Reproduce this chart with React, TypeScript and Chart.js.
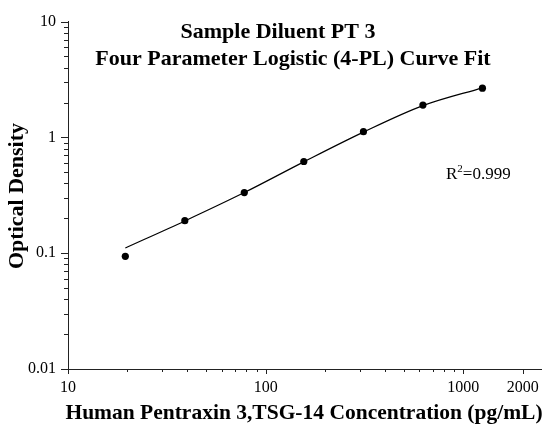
import React, { useEffect, useRef } from "react";
import { Chart, registerables } from "chart.js";

Chart.register(...registerables);

// Standard concentrations (pg/mL) and measured optical density
const concentrations = [19.5, 39, 78, 156, 312.5, 625, 1250];
const opticalDensity = [0.094, 0.191, 0.334, 0.619, 1.12, 1.9, 2.66];

// 4-PL fitted curve
const fitConcentrations = [19.5, 39, 78, 156, 312.5, 625, 1250];
const fitDensity = [0.111, 0.19, 0.334, 0.615, 1.11, 1.88, 2.68];

// Axis ticks
const xTickValues = [10, 20, 30, 40, 50, 60, 70, 80, 90, 100, 200, 300, 400, 500, 600, 700, 800, 900, 1000, 2000];
const xTickLabels = [10, 100, 1000, 2000];
const yTickValues = [
  0.01, 0.02, 0.03, 0.04, 0.05, 0.06, 0.07, 0.08, 0.09,
  0.1, 0.2, 0.3, 0.4, 0.5, 0.6, 0.7, 0.8, 0.9,
  1, 2, 3, 4, 5, 6, 7, 8, 9, 10,
];
const yTickLabels = [0.01, 0.1, 1, 10];

const titleLines = ["Sample Diluent PT 3", "Four Parameter Logistic (4-PL) Curve Fit"];
const xAxisTitle = "Human Pentraxin 3,TSG-14 Concentration (pg/mL)";
const yAxisTitle = "Optical Density";
const rSquaredText = "0.999";

const SERIF = '"Liberation Serif", "Times New Roman", serif';

const decorPlugin = {
  id: "decor",
  afterDraw(chart: any) {
    const ctx = chart.ctx as CanvasRenderingContext2D;
    const xs = chart.scales.x;
    const ys = chart.scales.y;
    const area = chart.chartArea;
    ctx.save();
    ctx.strokeStyle = "#222";
    ctx.lineWidth = 1;
    // x tick marks (outside, downward)
    ctx.beginPath();
    xs.ticks.forEach((t: any) => {
      const px = Math.round(xs.getPixelForValue(t.value)) + 0.5;
      const len = xTickLabels.includes(t.value) ? 5 : 3;
      ctx.moveTo(px, area.bottom);
      ctx.lineTo(px, area.bottom + len);
    });
    // y tick marks (outside, leftward)
    ys.ticks.forEach((t: any) => {
      const py = Math.round(ys.getPixelForValue(t.value)) + 0.5;
      const len = yTickLabels.includes(t.value) ? 7 : 4;
      ctx.moveTo(area.left, py);
      ctx.lineTo(area.left - len, py);
    });
    ctx.stroke();

    ctx.fillStyle = "#000";
    // Title
    ctx.font = `bold 22px ${SERIF}`;
    ctx.textAlign = "center";
    ctx.textBaseline = "alphabetic";
    ctx.fillText(titleLines[0], 278, 38);
    ctx.fillText(titleLines[1], 293, 65);

    // X axis title
    ctx.font = `bold 21.5px ${SERIF}`;
    ctx.fillText(xAxisTitle, 304, 419);

    // Y axis title
    ctx.save();
    ctx.translate(23, 196);
    ctx.rotate(-Math.PI / 2);
    ctx.font = `bold 22px ${SERIF}`;
    ctx.fillText(yAxisTitle, 0, 0);
    ctx.restore();

    // R^2 annotation
    ctx.textAlign = "left";
    let x = 446;
    ctx.font = `17px ${SERIF}`;
    ctx.fillText("R", x, 179);
    x += ctx.measureText("R").width;
    ctx.font = `11px ${SERIF}`;
    ctx.fillText("2", x, 172);
    x += ctx.measureText("2").width;
    ctx.font = `17px ${SERIF}`;
    ctx.fillText("=" + rSquaredText, x, 179);
    ctx.restore();
  },
};

export default function App() {
  const ref = useRef<HTMLCanvasElement | null>(null);

  useEffect(() => {
    if (!ref.current) return;
    const chart = new Chart(ref.current, {
      type: "line",
      data: {
        datasets: [
          {
            label: "4-PL fit",
            data: fitConcentrations.map((c, i) => ({ x: c, y: fitDensity[i] })),
            borderColor: "#000",
            borderWidth: 1.2,
            pointRadius: 0,
            tension: 0.4,
            cubicInterpolationMode: "monotone",
            fill: false,
          },
          {
            label: "Standards",
            data: concentrations.map((c, i) => ({ x: c, y: opticalDensity[i] })),
            showLine: false,
            pointRadius: 3.6,
            pointBackgroundColor: "#000",
            pointBorderColor: "#000",
            pointBorderWidth: 0,
          },
        ],
      },
      options: {
        responsive: false,
        animation: false,
        layout: { padding: { top: 18, right: 6, left: 0, bottom: 0 } },
        plugins: {
          legend: { display: false },
          title: { display: false },
          tooltip: { enabled: false },
        },
        scales: {
          x: {
            type: "logarithmic",
            min: 10,
            max: 2500,
            grid: { display: false, drawTicks: false },
            border: { display: true, color: "#222", width: 1 },
            afterBuildTicks: (scale: any) => {
              scale.ticks = xTickValues.map((v) => ({ value: v, major: false }));
            },
            afterFit: (scale: any) => {
              scale.height = 59;
            },
            ticks: {
              autoSkip: false,
              maxRotation: 0,
              padding: 9,
              color: "#000",
              font: { family: SERIF, size: 16 },
              callback: (v: any) => (xTickLabels.includes(v) ? String(v) : ""),
            },
          },
          y: {
            type: "logarithmic",
            min: 0.01,
            max: 10,
            grid: { display: false, drawTicks: false },
            border: { display: true, color: "#222", width: 1 },
            afterBuildTicks: (scale: any) => {
              scale.ticks = yTickValues.map((v) => ({ value: v, major: false }));
            },
            afterFit: (scale: any) => {
              scale.width = 68;
            },
            ticks: {
              autoSkip: false,
              padding: 12,
              color: "#000",
              font: { family: SERIF, size: 16 },
              callback: (v: any) => (yTickLabels.includes(v) ? String(v) : ""),
            },
          },
        },
      },
      plugins: [decorPlugin],
    } as any);
    return () => chart.destroy();
  }, []);

  return (
    <div style={{ position: "absolute", left: 0, top: 0, width: 548, height: 428, background: "#fff" }}>
      <canvas ref={ref} width={548} height={428} style={{ display: "block" }} />
    </div>
  );
}
